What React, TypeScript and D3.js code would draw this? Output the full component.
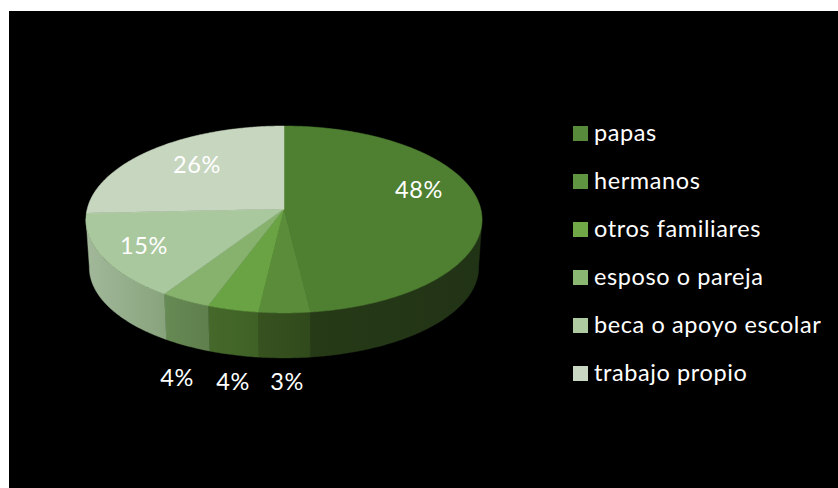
import React from "react";
import * as d3 from "d3";

const categories = ["papas", "hermanos", "otros familiares", "esposo o pareja", "beca o apoyo escolar", "trabajo propio"];
const shares = [48.1, 3.75, 3.75, 3.7, 15.0, 25.7];
const shareLabels = ["48%", "3%", "4%", "4%", "15%", "26%"];
const topColors = ["#4f7f31", "#5a8c3a", "#69a343", "#86b26d", "#a9c89d", "#c7d6bf"];
const swatchColors = ["#578a3a", "#5f9540", "#70a848", "#8ab873", "#adcaa0", "#c9d8c2"];
const wallLeft = ["#263a17", "#37521f", "#45692a", "#668a54", "#a2b89a", "#c7d6bf"];
const wallRight = ["#213315", "#314a1c", "#3f6126", "#5f7f4d", "#87a37c", "#c7d6bf"];

const W = 838;
const H = 488;
const cx = 284;
const apexY = 209;
const rimCenterY = 219.5;
const R = 196.8;
const Ry = 92.3;
const k = -0.112;
const wallDrop = 48;
const wallScaleX = 0.983;
const wallScaleY = 0.968;

const labelPos: [number, number][] = [[419, 198], [287, 390], [233, 390], [177, 386], [144, 254], [197, 173]];

type P = [number, number];
const topPoint = (a: number): P => {
  const u = Math.sin(a);
  const v = -Math.cos(a);
  const d = 1 + k * v;
  return [cx + (R * u) / d, apexY + (Ry * v) / d];
};
const bottomPoint = (a: number): P => {
  const [x, y] = topPoint(a);
  return [cx + (x - cx) * wallScaleX, rimCenterY + wallDrop + (y - rimCenterY) * wallScaleY];
};
const sample = (a0: number, a1: number, fn: (a: number) => P): P[] => {
  const n = Math.max(2, Math.ceil(Math.abs(a1 - a0) / 0.01));
  return d3.range(n + 1).map((i) => fn(a0 + ((a1 - a0) * i) / n));
};

const FONT = "Lato, 'Open Sans', sans-serif";

export default function App() {
  const arcs = d3.pie<number>().sort(null)(shares);
  const line = d3.line<P>();
  const wallStart = (96 * Math.PI) / 180;
  const wallEnd = (264 * Math.PI) / 180;
  const legendY = d3.scalePoint<string>().domain(categories).range([126, 366]);

  return (
    <svg width={W} height={H} style={{ position: "absolute", left: 0, top: 0, display: "block", background: "#fff" }}>
      <defs>
        {arcs.map((d, i) => {
          const a0 = Math.max(d.startAngle, wallStart);
          const a1 = Math.min(d.endAngle, wallEnd);
          if (a1 <= a0) return null;
          return (
            <linearGradient key={i} id={`wall${i}`} gradientUnits="objectBoundingBox" x1="0" x2="1" y1="0" y2="0">
              <stop offset="0" stopColor={wallLeft[i]} />
              <stop offset="1" stopColor={wallRight[i]} />
            </linearGradient>
          );
        })}
      </defs>
      <rect x={9} y={11} width={W - 9} height={H - 11} fill="#000" />
      {arcs.map((d, i) => {
        const a0 = Math.max(d.startAngle, wallStart);
        const a1 = Math.min(d.endAngle, wallEnd);
        if (a1 <= a0) return null;
        const pts = [...sample(a0, a1, topPoint), ...sample(a1, a0, bottomPoint)];
        return <path key={i} d={line(pts) + "Z"} fill={`url(#wall${i})`} stroke={`url(#wall${i})`} strokeWidth={0.4} />;
      })}
      {arcs.map((d, i) => {
        const pts: P[] = [[cx, apexY], ...sample(d.startAngle, d.endAngle, topPoint)];
        return <path key={i} d={line(pts) + "Z"} fill={topColors[i]} stroke={topColors[i]} strokeWidth={0.5} strokeLinejoin="round" />;
      })}
      <g fontFamily={FONT} fontSize={23.5} letterSpacing={0.6} fill="#fff" textAnchor="middle">
        {shareLabels.map((t, i) => (
          <text key={i} x={labelPos[i][0]} y={labelPos[i][1]}>{t}</text>
        ))}
      </g>
      {categories.map((c, i) => {
        const y = legendY(c) as number;
        return (
          <g key={c}>
            <rect x={573} y={y} width={15} height={15} fill={swatchColors[i]} />
            <text x={594} y={y + 15} fontFamily={FONT} fontSize={23.5} letterSpacing={0.6} fill="#fff">{c}</text>
          </g>
        );
      })}
    </svg>
  );
}
